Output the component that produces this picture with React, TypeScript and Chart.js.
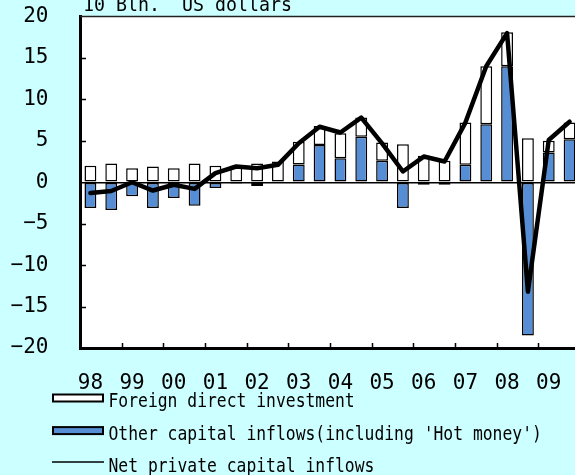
import React, { useEffect, useRef } from 'react';
import { Chart, registerables } from 'chart.js';

Chart.register(...registerables);

// Half-year periods, 1998 H1 .. 2009 H2
const periods = [
  '98H1', '98H2', '99H1', '99H2', '00H1', '00H2', '01H1', '01H2',
  '02H1', '02H2', '03H1', '03H2', '04H1', '04H2', '05H1', '05H2',
  '06H1', '06H2', '07H1', '07H2', '08H1', '08H2', '09H1', '09H2',
];
const yearLabels = ['98', '99', '00', '01', '02', '03', '04', '05', '06', '07', '08', '09'];

// 10 Bln. US dollars
const fdi = [
  2.0, 2.25, 1.7, 1.9, 1.7, 2.25, 2.0, 2.0,
  2.25, 2.5, 2.75, 2.3, 3.0, 2.3, 2.2, 4.6,
  3.2, 2.6, 5.1, 7.0, 4.1, 5.3, 1.4, 2.0,
];
const otherInflows = [
  -3.1, -3.35, -1.7, -3.1, -1.9, -2.85, -0.7, -0.15,
  -0.45, -0.1, 2.15, 4.5, 2.9, 5.5, 2.6, -3.1,
  -0.3, -0.3, 2.1, 7.0, 14.0, -18.5, 3.6, 5.2,
];
const netInflows = [
  -1.3, -1.05, 0.0, -1.0, -0.3, -0.8, 1.1, 1.9,
  1.7, 2.1, 4.7, 6.7, 6.0, 7.8, 4.7, 1.3,
  3.1, 2.5, 7.2, 14.0, 18.0, -13.2, 5.1, 7.3,
];

const yMin = -20;
const yMax = 20;
const yStep = 5;

const unitTitle = '10 Bln.  US dollars';
const fdiLabel = 'Foreign direct investment';
const otherLabel = "Other capital inflows(including 'Hot money')";
const netLabel = 'Net private capital inflows';

const BLUE = '#558ED5';
const MONO = '"DejaVu Sans Mono", monospace';

const decorPlugin = {
  id: 'decor',
  beforeDraw(chart: any) {
    const { ctx, chartArea: a } = chart;
    ctx.save();
    ctx.fillStyle = '#ffffff';
    ctx.fillRect(a.left, a.top, a.right - a.left + 10, a.bottom - a.top);
    ctx.restore();
  },
  afterDraw(chart: any) {
    const { ctx, chartArea: a, scales } = chart;
    const xs = scales.x;
    const ys = scales.y;
    ctx.save();
    // top frame line
    ctx.strokeStyle = '#222';
    ctx.lineWidth = 1.5;
    ctx.beginPath();
    ctx.moveTo(a.left, a.top);
    ctx.lineTo(a.right + 10, a.top);
    ctx.stroke();

    // inner tick marks
    ctx.strokeStyle = '#000';
    ctx.lineWidth = 1.5;
    ctx.beginPath();
    ys.ticks.forEach((t: any) => {
      if (t.value === yMin || t.value === yMax || t.value === 0) return;
      const py = Math.round(ys.getPixelForValue(t.value)) + 0.5;
      ctx.moveTo(a.left, py);
      ctx.lineTo(a.left + 6, py);
    });
    for (let k = 1; k < yearLabels.length; k++) {
      const px = Math.round(xs.getPixelForValue(2 * k - 0.5)) + 0.5;
      ctx.moveTo(px, a.bottom);
      ctx.lineTo(px, a.bottom - 5);
    }
    ctx.stroke();

    // unit title (partly above the canvas top)
    ctx.fillStyle = '#000';
    ctx.textBaseline = 'alphabetic';
    ctx.textAlign = 'left';
    ctx.font = `20px ${MONO}`;
    ctx.save();
    ctx.translate(83, a.top - 5.5);
    ctx.scale(0.913, 1);
    ctx.fillText(unitTitle, 0, 0);
    ctx.restore();

    // legend
    const ds = chart.data.datasets;
    const byLabel = (l: string) => ds.find((d: any) => d.label === l);
    const rows = [byLabel(fdiLabel), byLabel(otherLabel), byLabel(netLabel)];
    const baseY = a.bottom + 59;
    const rowGap = 32.6;
    ctx.font = `19px ${MONO}`;
    rows.forEach((d: any, i: number) => {
      const bl = baseY + i * rowGap;
      if (d.type === 'line') {
        ctx.strokeStyle = '#000';
        ctx.lineWidth = 1.5;
        ctx.beginPath();
        ctx.moveTo(52, bl - 10.3);
        ctx.lineTo(104, bl - 10.3);
        ctx.stroke();
      } else {
        ctx.fillStyle = d.backgroundColor;
        ctx.fillRect(53, bl - 12.5, 50, 7);
        ctx.strokeStyle = '#000';
        ctx.lineWidth = 2;
        ctx.strokeRect(53, bl - 12.5, 50, 7);
      }
      ctx.fillStyle = '#000';
      ctx.save();
      ctx.translate(108.5, bl);
      ctx.scale(0.861, 1);
      ctx.fillText(d.label, 0, 0);
      ctx.restore();
    });
    ctx.restore();
  },
};

export default function App() {
  const ref = useRef<HTMLCanvasElement>(null);

  useEffect(() => {
    const canvas = ref.current;
    if (!canvas) return;
    const chart = new Chart(canvas, {
      type: 'bar',
      data: {
        labels: periods,
        datasets: [
          {
            type: 'line',
            label: netLabel,
            data: netInflows,
            borderColor: '#000',
            backgroundColor: '#000',
            borderWidth: 4.5,
            borderJoinStyle: 'round',
            borderCapStyle: 'round',
            pointRadius: 0,
            tension: 0,
            fill: false,
            order: 0,
          } as any,
          {
            type: 'bar',
            label: otherLabel,
            data: otherInflows,
            backgroundColor: BLUE,
            borderColor: '#000',
            borderWidth: 1.5,
            borderSkipped: false,
            barPercentage: 0.57,
            categoryPercentage: 1,
            order: 1,
          },
          {
            type: 'bar',
            label: fdiLabel,
            data: fdi,
            backgroundColor: '#ffffff',
            borderColor: '#000',
            borderWidth: 1.5,
            borderSkipped: false,
            barPercentage: 0.57,
            categoryPercentage: 1,
            order: 2,
          },
        ],
      },
      options: {
        responsive: false,
        animation: false,
        layout: { autoPadding: false, padding: { top: 16.5, right: 2, left: 0, bottom: 0 } },
        plugins: {
          legend: { display: false },
          tooltip: { enabled: false },
          title: { display: false },
        },
        scales: {
          x: {
            type: 'category',
            stacked: true,
            offset: true,
            grid: { display: false, drawTicks: false },
            border: { display: true, color: '#000', width: 3 },
            ticks: {
              autoSkip: false,
              maxRotation: 0,
              minRotation: 0,
              padding: 23,
              color: '#000',
              font: { family: MONO, size: 21 },
              callback: (_v: any, i: number) => (i % 2 === 0 ? yearLabels[i / 2] : ''),
            },
            afterFit: (s: any) => {
              s.height = 127;
              s.paddingLeft = 0;
              s.paddingRight = 0;
            },
          },
          y: {
            stacked: true,
            min: yMin,
            max: yMax,
            grid: {
              drawTicks: false,
              lineWidth: 1.5,
              color: (c: any) => (c.tick && c.tick.value === 0 ? '#000' : 'rgba(0,0,0,0)'),
            },
            border: { display: true, color: '#000', width: 3 },
            ticks: {
              stepSize: yStep,
              padding: 31.5,
              color: '#000',
              font: { family: MONO, size: 21 },
              callback: (v: any) => (Number(v) < 0 ? '\u2212' + Math.abs(Number(v)) : String(v)),
            },
            afterFit: (s: any) => {
              s.width = 80;
              s.paddingTop = 0;
              s.paddingBottom = 0;
            },
          },
        },
      },
      plugins: [decorPlugin],
    });
    return () => chart.destroy();
  }, []);

  return (
    <div
      style={{
        position: 'fixed',
        left: 0,
        top: 0,
        width: 575,
        height: 475,
        overflow: 'hidden',
        background: '#CCFFFF',
      }}
    >
      <canvas ref={ref} width={582} height={475} style={{ display: 'block', width: 582, height: 475 }} />
    </div>
  );
}
